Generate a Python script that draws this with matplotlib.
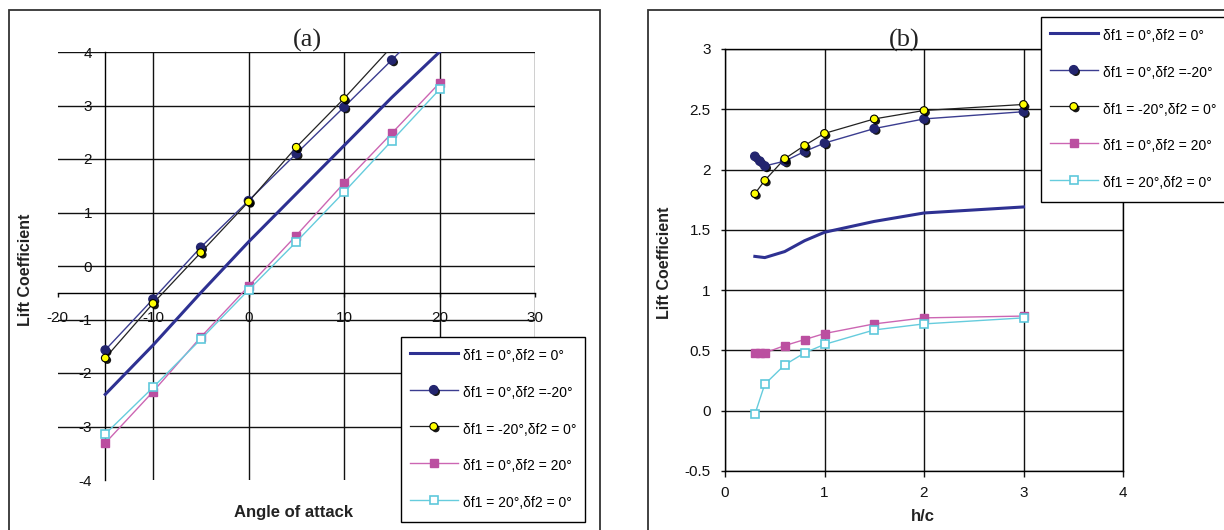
import matplotlib
matplotlib.use("Agg")
import matplotlib.pyplot as plt
import matplotlib.patheffects as pe
from matplotlib.patches import Rectangle
from matplotlib.ticker import FuncFormatter

plt.rcParams['font.family'] = ['Liberation Sans', 'DejaVu Sans']
plt.rcParams['axes.unicode_minus'] = False

# ---------------- data (a) : lift coefficient vs angle of attack
aoa = [-15, -10, -5, 0, 5, 10, 15, 20]
aoa_f1m20 = [-15, -10, -5, 0, 5, 10, 15]
cl_base_a = [-2.40, -1.48, -0.50, 0.45, 1.35, 2.25, 3.15, 4.00]
cl_f2m20_a = [-1.57, -0.62, 0.35, 1.22, 2.10, 2.97, 3.85, 4.75]
cl_f1m20_a = [-1.72, -0.70, 0.25, 1.20, 2.22, 3.13, 4.10]
cl_f2p20_a = [-3.31, -2.35, -1.33, -0.38, 0.57, 1.55, 2.48, 3.42]
cl_f1p20_a = [-3.14, -2.27, -1.37, -0.45, 0.45, 1.38, 2.34, 3.30]

# ---------------- data (b) : lift coefficient vs h/c
hc = [0.3, 0.4, 0.6, 0.8, 1.0, 1.5, 2.0, 3.0]
hc_fine = [0.3, 0.35, 0.4, 0.6, 0.8, 1.0, 1.5, 2.0, 3.0]
cl_base_b = [1.28, 1.27, 1.32, 1.41, 1.48, 1.57, 1.64, 1.69]
cl_f2m20_b = [2.11, 2.07, 2.03, 2.07, 2.15, 2.22, 2.34, 2.42, 2.48]
cl_f1m20_b = [1.80, 1.91, 2.09, 2.20, 2.30, 2.42, 2.49, 2.54]
cl_f2p20_b = [0.48, 0.48, 0.48, 0.54, 0.59, 0.64, 0.72, 0.77, 0.785]
cl_f1p20_b = [-0.03, 0.22, 0.38, 0.48, 0.55, 0.67, 0.72, 0.77]

labels = ["δf1 = 0°,δf2 = 0°", "δf1 = 0°,δf2 =-20°", "δf1 = -20°,δf2 = 0°",
          "δf1 = 0°,δf2 = 20°", "δf1 = 20°,δf2 = 0°"]

xticks_a = [-20, -10, 0, 10, 20, 30]
yticks_a = [-4, -3, -2, -1, 0, 1, 2, 3, 4]
xticks_b = [0, 1, 2, 3, 4]
yticks_b = [-0.5, 0, 0.5, 1, 1.5, 2, 2.5, 3]

W, H = 1224, 530
fig = plt.figure(figsize=(W / 100, H / 100), dpi=100)

shadow = [pe.SimplePatchShadow(offset=(1.5, -1.5), shadow_rgbFace='black', alpha=0.9), pe.Normal()]


def draw(ax, x1, y1, x2, y2, x3, y3, x4, y4, x5, y5):
    l1, = ax.plot(x1, y1, color='#2e3192', lw=2.2, zorder=3)
    l2, = ax.plot(x2, y2, color='#3b3d90', lw=1.0, zorder=3)
    m2, = ax.plot(x2, y2, ls='none', marker='o', ms=6, mfc='#23256f', mec='#23256f',
                  path_effects=shadow, zorder=4)
    l3, = ax.plot(x3, y3, color='#222222', lw=0.9, zorder=3)
    m3, = ax.plot(x3, y3, ls='none', marker='o', ms=5.5, mfc='#ffff00', mec='black', mew=0.8,
                  path_effects=shadow, zorder=5)
    l4, = ax.plot(x4, y4, color='#cc66b3', lw=1.0, marker='s', ms=6, mfc='#bb4fa0',
                  mec='#bb4fa0', zorder=3)
    l5, = ax.plot(x5, y5, color='#66ccdd', lw=1.0, marker='s', ms=6, mfc='white',
                  mec='#5fc8dc', mew=1.2, zorder=3)
    return [l1, (l2, m2), (l3, m3), l4, l5]


def legend(ax, handles, left, top):
    lg = ax.legend(handles, labels, loc='upper left', bbox_to_anchor=(left / W, 1 - top / H),
                   bbox_transform=fig.transFigure, borderaxespad=0, fancybox=False,
                   edgecolor='black', framealpha=1, fontsize=10, handlelength=3.45,
                   handleheight=1.9, handletextpad=0.36, labelspacing=1.16, borderpad=0.63,
                   numpoints=1)
    lg.get_frame().set_linewidth(1.0)
    lg.set_zorder(10)


# outer frames
fig.add_artist(Rectangle((9 / W, -0.05), (600 - 9) / W, 1.05 - 9.5 / H, transform=fig.transFigure,
                         fill=False, ec='#333333', lw=1.3))
fig.add_artist(Rectangle((648 / W, -0.05), 1.0, 1.05 - 9.5 / H, transform=fig.transFigure,
                         fill=False, ec='#333333', lw=1.3))

# ---------------- panel (a)
ax1 = fig.add_axes([57.5 / W, 1 - 480 / H, 477.5 / W, 428 / H])
ax1.set_xlim(-20, 30)
ax1.set_ylim(-4, 4)
ax1.set_xticks(xticks_a)
ax1.set_yticks(yticks_a)
# grid, but nothing on the left (-20) and bottom (-4) edges
for v in xticks_a[1:]:
    ax1.axvline(v, color='#111111', lw=1.0, zorder=1)
for v in yticks_a[1:]:
    ax1.axhline(v, color='#111111', lw=1.0, zorder=1)
for s in ['top', 'right']:
    ax1.spines[s].set_visible(False)
ax1.spines['left'].set_position(('data', -15))
ax1.spines['bottom'].set_position(('data', -0.5))
ax1.spines['left'].set_linewidth(1.0)
ax1.spines['bottom'].set_linewidth(1.0)
ax1.tick_params(axis='y', length=0, pad=9.5, labelsize=11, colors='#111111')
ax1.tick_params(axis='x', length=3, width=1.0, pad=10, labelsize=11, colors='#111111')
h = draw(ax1, aoa, cl_base_a, aoa, cl_f2m20_a, aoa_f1m20, cl_f1m20_a,
         aoa, cl_f2p20_a, aoa, cl_f1p20_a)
legend(ax1, h, 401, 337)
ax1.text(0.5225, 1.028, '(a)', transform=ax1.transAxes, ha='center', va='center',
         fontsize=19, family='Liberation Serif', color='#222222')
ax1.text(0.495, -0.077, 'Angle of attack', transform=ax1.transAxes, ha='center', va='center',
         fontsize=12, fontweight='bold', color='#222222')
ax1.text(-0.068, 0.49, 'Lift Coefficient', transform=ax1.transAxes, ha='center', va='center',
         rotation=90, fontsize=11.5, fontweight='bold', color='#222222')

# ---------------- panel (b)
ax2 = fig.add_axes([725 / W, 1 - 471 / H, 398 / W, 422 / H])
ax2.set_xlim(0, 4)
ax2.set_ylim(-0.5, 3)
ax2.set_xticks(xticks_b)
ax2.set_yticks(yticks_b)
ax2.yaxis.set_major_formatter(FuncFormatter(lambda v, p: '%g' % v))
ax2.grid(True, color='#111111', lw=1.0, zorder=1)
ax2.set_axisbelow(True)
for s in ax2.spines.values():
    s.set_linewidth(1.0)
ax2.tick_params(axis='y', length=3, width=1.0, pad=7.2, labelsize=11, colors='#111111')
ax2.tick_params(axis='x', length=4, width=1.0, pad=7, labelsize=11, colors='#111111')
h = draw(ax2, hc, cl_base_b, hc_fine, cl_f2m20_b, hc, cl_f1m20_b,
         hc_fine, cl_f2p20_b, hc, cl_f1p20_b)
legend(ax2, h, 1041, 17)
ax2.text(0.45, 1.021, '(b)', transform=ax2.transAxes, ha='center', va='center',
         fontsize=19, family='Liberation Serif', color='#222222')
ax2.text(0.4975, -0.109, 'h/c', transform=ax2.transAxes, ha='center', va='center',
         fontsize=12, fontweight='bold', color='#222222')
ax2.text(-0.153, 0.493, 'Lift Coefficient', transform=ax2.transAxes, ha='center', va='center',
         rotation=90, fontsize=11.5, fontweight='bold', color='#222222')

fig.savefig('out.png', dpi=100)
